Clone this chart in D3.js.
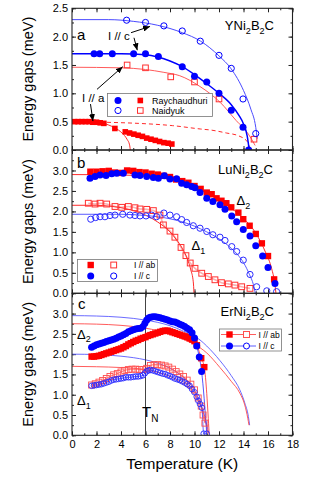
<!DOCTYPE html>
<html>
<head>
<meta charset="utf-8">
<script src="https://cdn.jsdelivr.net/npm/d3@7"></script>
<style>
  body { margin: 0; background: #fff; }
  svg text { font-family: "Liberation Sans", Arial, sans-serif; fill: #000; }
</style>
</head>
<body>
<svg id="chart" width="332" height="478"></svg>
<script>
// ---------- data (T in K, gap in meV) ----------
var xTicks = [0, 2, 4, 6, 8, 10, 12, 14, 16, 18];

// panel a : YNi2B2C
var aRayC = [[1.8,1.7],[2.26,1.7],[3.29,1.7],[5.03,1.7],[6.0,1.7],[7.05,1.65],[9.0,1.47],[10.0,1.3],[11.0,1.2],[12.0,1.0],[13.0,0.7],[13.96,0.4],[14.42,0.0]];
var aNaiC = [[4.46,2.29],[6.0,2.25],[7.5,2.19],[9.0,2.1],[10.47,1.92],[12.0,1.67],[13.0,1.44],[13.96,0.9],[15.0,0.29]];
var aNaiA = [[4.5,1.5],[6.0,1.45],[8.06,1.29],[10.0,1.2],[12.0,0.9],[14.86,0.19]];
var aRayA = [[0.2,0.5],[0.5,0.5],[0.8,0.5],[1.1,0.5],[1.4,0.5],[1.7,0.49],[2.0,0.49],[2.3,0.48],[2.6,0.47],[3.5,0.38],[4.35,0.32],[4.7,0.3],[5.05,0.28],[5.4,0.26],[5.75,0.24],[6.1,0.21],[6.45,0.19],[6.8,0.17],[7.15,0.15],[7.5,0.13],[7.85,0.12],[8.15,0.105]];
var aFitNaiC = [[0,2.3],[3,2.3],[5,2.27],[7,2.2],[9,2.07],[10.5,1.92],[12,1.66],[13,1.43],[14,1.05],[14.6,0.72],[15.0,0.4],[15.12,0.2]];
var aFitRayC = [[0,1.7],[4,1.7],[6,1.68],[7,1.64],[8,1.57],[9,1.47],[10,1.33],[11,1.17],[12,1.0],[13,0.8],[13.6,0.62],[14,0.46],[14.3,0.25],[14.47,0]];
var aFitNaiA = [[0,1.46],[4,1.45],[6,1.42],[7.5,1.37],[8.8,1.31],[10.45,1.12],[12.1,0.84],[13.4,0.52],[14.4,0.28],[14.95,0.08]];
var aFitRayA1 = [[0,0.5],[2.6,0.49],[5.4,0.47],[8.2,0.43],[10.5,0.37],[11.4,0.35],[12.6,0.3],[13.6,0.25],[14.3,0.15],[14.55,0]];
var aFitRayA2 = [[0,0.5],[2,0.49],[3,0.44],[3.5,0.39],[4.08,0.3],[4.49,0.19],[4.7,0.09],[4.76,0]];

// panel b : LuNi2B2C
var bAbFilled = [[1.5,2.97],[2.0,2.97],[2.5,2.98],[3.0,2.99],[3.5,2.95],[4.0,2.94],[4.5,3.0],[5.0,2.99],[5.5,2.96],[6.0,2.95],[6.5,2.92],[7.0,2.9],[7.5,2.87],[8.0,2.84],[8.5,2.78],[9.0,2.74],[9.5,2.7],[10.0,2.62],[10.5,2.55],[11.0,2.46],[11.4,2.42],[11.8,2.32],[12.2,2.26],[12.6,2.2],[13.0,2.1],[13.58,1.97],[13.98,1.81],[14.5,1.65],[15.0,1.45],[15.5,1.22],[16.0,0.91],[16.5,0.34]];
var bCFilled = [[1.47,2.81],[1.88,2.85],[2.29,2.89],[2.78,2.88],[3.24,2.92],[3.65,2.93],[4.19,2.93],[5.14,2.89],[5.55,2.88],[6.1,2.85],[6.64,2.83],[7.05,2.81],[7.54,2.87],[8.0,2.79],[8.54,2.8],[8.95,2.69],[9.36,2.65],[9.77,2.61],[10.04,2.58],[10.45,2.46],[11.0,2.32],[11.5,2.24],[12.08,2.16],[12.49,2.05],[13.04,1.89],[13.44,1.75],[13.98,1.56],[14.53,1.4],[15.0,1.16],[15.56,0.91],[16.0,0.63],[16.57,0.24]];
var bAbOpen = [[1.33,2.2],[1.88,2.18],[2.29,2.2],[2.83,2.18],[3.51,2.12],[4.06,2.1],[4.6,2.12],[5.14,2.09],[5.55,2.06],[6.1,2.05],[6.64,2.02],[7.18,1.91],[7.46,1.67],[8.0,1.52],[8.4,1.37],[8.9,1.12],[9.3,0.92],[9.65,0.74],[10.04,0.61],[10.59,0.49],[11.13,0.41],[11.67,0.33],[12.2,0.26],[12.76,0.23],[13.3,0.2],[13.85,0.16],[14.53,0.12]];
var bCOpen = [[1.53,1.81],[1.93,1.85],[2.29,1.87],[2.69,1.87],[3.1,1.9],[3.51,1.91],[4.14,1.93],[4.73,1.91],[5.14,1.9],[5.55,1.89],[6.04,1.89],[6.5,1.91],[6.9,1.87],[7.5,1.96],[8.0,1.91],[8.54,1.87],[8.95,1.8],[9.36,1.73],[9.9,1.65],[10.45,1.59],[11.0,1.51],[11.5,1.43],[12.08,1.37],[12.49,1.29],[13.04,1.14],[13.44,1.02],[13.98,0.81],[14.53,0.46],[15.07,0.16],[15.9,0.06],[16.7,0.04]];
var bFitAb2 = [[0,2.9],[4,2.89],[6,2.86],[8,2.78],[10,2.6],[12,2.3],[13,2.08],[14,1.83],[15,1.47],[15.8,1.0],[16.3,0.6],[16.55,0.25],[16.65,0]];
var bFitAb1 = [[0,2.15],[2,2.15],[3,2.13],[4,2.09],[5,2.02],[6,1.91],[7,1.74],[8,1.5],[8.5,1.32],[9,1.1],[9.4,0.85],[9.7,0.57],[9.9,0.28],[9.96,0]];
var bFitC1 = [[0,1.93],[4,1.93],[6,1.9],[8,1.82],[10,1.64],[11,1.5],[12,1.33],[13,1.1],[13.5,0.95],[14,0.75],[14.5,0.45],[14.8,0.22],[14.97,0]];

// panel c : ErNi2B2C
var cCFilled = [[1.6,2.17],[1.8,2.2],[2.0,2.23],[2.2,2.25],[2.4,2.27],[2.6,2.29],[2.8,2.31],[3.0,2.33],[3.2,2.35],[3.4,2.37],[3.6,2.39],[3.8,2.42],[4.0,2.45],[4.2,2.48],[4.4,2.51],[4.6,2.55],[4.8,2.58],[5.0,2.6],[5.2,2.62],[5.4,2.63],[5.6,2.64],[5.8,2.68],[5.95,2.76],[6.1,2.84],[6.25,2.89],[6.4,2.91],[6.6,2.92],[6.8,2.92],[7.0,2.91],[7.2,2.9],[7.4,2.88],[7.6,2.86],[7.8,2.84],[8.0,2.82],[8.2,2.8],[8.4,2.79],[8.6,2.77],[8.8,2.74],[9.0,2.71],[9.2,2.68],[9.4,2.64],[9.6,2.6],[9.8,2.53],[10.0,2.4],[10.18,2.2],[10.39,1.93],[10.58,1.57]];
var cAbFilled = [[1.6,1.94],[1.8,1.94],[2.0,1.95],[2.2,1.96],[2.4,1.98],[2.6,2.0],[2.8,2.02],[3.0,2.04],[3.2,2.06],[3.4,2.08],[3.6,2.1],[3.8,2.12],[4.0,2.14],[4.2,2.17],[4.4,2.2],[4.6,2.24],[4.8,2.27],[5.0,2.3],[5.2,2.33],[5.4,2.35],[5.6,2.38],[5.8,2.4],[6.0,2.42],[6.2,2.45],[6.4,2.47],[6.6,2.49],[6.8,2.51],[7.0,2.53],[7.2,2.55],[7.4,2.57],[7.6,2.58],[7.8,2.58],[8.0,2.56],[8.2,2.54],[8.4,2.52],[8.6,2.5],[8.8,2.48],[9.0,2.46],[9.2,2.44],[9.4,2.42],[9.6,2.39],[9.8,2.36],[10.0,2.32],[10.2,2.22],[10.55,1.9],[10.8,1.68]];
var cAbOpen = [[1.6,1.24],[1.9,1.27],[2.2,1.31],[2.5,1.35],[2.8,1.4],[3.1,1.45],[3.4,1.49],[3.7,1.52],[4.0,1.56],[4.3,1.6],[4.6,1.62],[4.9,1.63],[5.2,1.63],[5.5,1.62],[5.8,1.62],[6.1,1.65],[6.4,1.72],[6.7,1.74],[7.0,1.74],[7.3,1.73],[7.6,1.71],[7.9,1.68],[8.2,1.63],[8.5,1.57],[8.8,1.51],[9.1,1.45],[9.4,1.36],[9.7,1.26],[10.0,1.12],[10.3,0.92],[10.55,0.72],[10.7,0.5],[10.85,0.3]];
var cCOpen = [[1.6,1.22],[1.8,1.23],[2.0,1.24],[2.2,1.25],[2.4,1.26],[2.6,1.28],[2.8,1.3],[3.0,1.32],[3.2,1.35],[3.4,1.37],[3.6,1.38],[3.8,1.39],[4.0,1.4],[4.2,1.41],[4.4,1.43],[4.6,1.43],[4.8,1.43],[5.0,1.44],[5.2,1.45],[5.4,1.45],[5.6,1.46],[5.8,1.48],[5.95,1.53],[6.1,1.58],[6.25,1.6],[6.4,1.61],[6.6,1.6],[6.8,1.58],[7.0,1.56],[7.2,1.54],[7.4,1.52],[7.6,1.51],[7.8,1.48],[8.0,1.46],[8.2,1.43],[8.4,1.4],[8.6,1.38],[8.8,1.36],[9.0,1.33],[9.2,1.3],[9.4,1.26],[9.6,1.22],[9.8,1.14],[10.0,1.06],[10.18,0.95],[10.32,0.85],[10.45,0.77],[10.6,0.68],[10.75,0.04],[11.0,0.04]];
var cFitC2 = [[0,2.95],[2,2.94],[4,2.91],[6,2.84],[8,2.7],[9,2.58],[10.45,2.35],[11,2.2],[12.08,1.84],[13,1.47],[13.7,1.12],[14.1,0.8],[14.4,0.46],[14.5,0.25]];
var cFitAb2 = [[0,2.75],[2,2.74],[4,2.71],[6,2.64],[8,2.5],[9,2.38],[10.45,2.16],[11,2.03],[12.08,1.67],[13,1.33],[13.7,1.04],[14.1,0.75],[14.35,0.42],[14.45,0.25]];
var cFitC1 = [[0,2.0],[2,1.99],[4,1.95],[6,1.86],[7,1.78],[8,1.65],[9,1.45],[9.6,1.28],[10,1.1],[10.5,0.78],[10.9,0.4],[11.15,0.05]];
var cFitAb1 = [[0,1.7],[2,1.69],[4,1.67],[6,1.62],[7,1.55],[8,1.45],[9,1.28],[10,1.0],[10.5,0.72],[10.9,0.35],[11.1,0.05]];
var cTailC = [[10.58,1.57],[11.0,0.04]];
var cTailAb = [[10.8,1.68],[11.2,0.02]];
var tN = 6;

// ---------- layout ----------
var RED = "#ff0000", BLUE = "#0000ff";
var svg = d3.select("#chart");
var x = d3.scaleLinear().domain([0, 18]).range([72, 292.5]);
var fmt = d3.format(".1f");

var panels = [
  {top: 8.3,   bottom: 150,   max: 2.5, labels: [0, 0.5, 1, 1.5, 2, 2.5]},
  {top: 150,   bottom: 293.3, max: 3.5, labels: [0, 0.5, 1, 1.5, 2, 2.5, 3]},
  {top: 293.3, bottom: 435.3, max: 3.5, labels: [0, 0.5, 1, 1.5, 2, 2.5, 3]}
];

svg.append("defs").append("marker")
    .attr("id", "arrow")
    .attr("markerUnits", "userSpaceOnUse")
    .attr("markerWidth", 7).attr("markerHeight", 6)
    .attr("refX", 7).attr("refY", 3)
    .attr("orient", "auto")
  .append("path").attr("d", "M0,0 L7,3 L0,6 Z").attr("fill", "#000");

function lineFor(y) {
  return d3.line().x(function(d){ return x(d[0]); }).y(function(d){ return y(d[1]); })
    .curve(d3.curveMonotoneX);
}
function drawLine(g, data, y, color, w, dash) {
  g.append("path").datum(data)
    .attr("d", lineFor(y))
    .attr("fill", "none")
    .attr("stroke", color)
    .attr("stroke-width", w)
    .attr("stroke-dasharray", dash || null);
}
function circles(g, data, y, r, filled, color, sw) {
  g.selectAll(null).data(data).enter().append("circle")
    .attr("cx", function(d){ return x(d[0]); })
    .attr("cy", function(d){ return y(d[1]); })
    .attr("r", r)
    .attr("fill", filled ? color : "none")
    .attr("stroke", color)
    .attr("stroke-width", filled ? 0 : (sw || 1));
}
function squares(g, data, y, s, filled, color, sw) {
  g.selectAll(null).data(data).enter().append("rect")
    .attr("x", function(d){ return x(d[0]) - s / 2; })
    .attr("y", function(d){ return y(d[1]) - s / 2; })
    .attr("width", s).attr("height", s)
    .attr("fill", filled ? color : "none")
    .attr("stroke", color)
    .attr("stroke-width", filled ? 0 : (sw || 1));
}
// chemical formula with subscripts
function chem(g, px, py, parts, size) {
  var t = g.append("text").attr("x", px).attr("y", py).attr("text-anchor", "end")
    .attr("font-size", size);
  parts.forEach(function(p) {
    if (p.sub) {
      t.append("tspan").text(p.sub).attr("font-size", size * 0.7).attr("dy", 3.5);
    } else {
      t.append("tspan").text(p.t).attr("dy", p.after ? -3.5 : 0);
    }
  });
}
function formula(el) {
  return [{t: el}, {t: "Ni"}, {sub: "2"}, {t: "B", after: true}, {sub: "2"}, {t: "C", after: true}];
}
function delta(g, px, py, sub) {
  var t = g.append("text").attr("x", px).attr("y", py).attr("font-size", 13);
  t.append("tspan").text("\u0394");
  t.append("tspan").text(sub).attr("font-size", 9).attr("dy", 3.5);
}

var ys = panels.map(function(p, i) {
  var y = d3.scaleLinear().domain([0, p.max]).range([p.bottom, p.top]);
  var g = svg.append("g");

  var clip = "clip" + i;
  svg.append("clipPath").attr("id", clip).append("rect")
    .attr("x", x(0)).attr("y", p.top).attr("width", x(18) - x(0)).attr("height", p.bottom - p.top);
  p.g = svg.append("g").attr("clip-path", "url(#" + clip + ")");

  function strip(a) { a.select(".domain").remove(); a.selectAll("line").attr("stroke", "#222"); }
  var minorY = d3.range(0, p.max + 0.001, 0.25);
  var minorX = d3.range(0, 18.001, 1);

  g.append("g").attr("transform", "translate(" + x(0) + ",0)")
    .call(d3.axisLeft(y).tickValues(p.labels).tickSize(-4).tickPadding(4).tickFormat(fmt))
    .call(strip)
    .selectAll("text").attr("font-size", 11).attr("font-family", "Liberation Sans, Arial, sans-serif");
  g.append("g").attr("transform", "translate(" + x(0) + ",0)")
    .call(d3.axisLeft(y).tickValues(minorY).tickSize(-2).tickFormat("")).call(strip);
  g.append("g").attr("transform", "translate(" + x(18) + ",0)")
    .call(d3.axisRight(y).tickValues(p.labels).tickSize(-4).tickFormat("")).call(strip);
  g.append("g").attr("transform", "translate(" + x(18) + ",0)")
    .call(d3.axisRight(y).tickValues(minorY).tickSize(-2).tickFormat("")).call(strip);

  var bottomAxis = d3.axisBottom(x).tickValues(xTicks).tickSize(-4).tickPadding(5)
    .tickFormat(i === 2 ? d3.format("d") : "");
  g.append("g").attr("transform", "translate(0," + p.bottom + ")")
    .call(bottomAxis).call(strip)
    .selectAll("text").attr("font-size", 11).attr("font-family", "Liberation Sans, Arial, sans-serif");
  g.append("g").attr("transform", "translate(0," + p.bottom + ")")
    .call(d3.axisBottom(x).tickValues(minorX).tickSize(-2).tickFormat("")).call(strip);
  g.append("g").attr("transform", "translate(0," + p.top + ")")
    .call(d3.axisTop(x).tickValues(xTicks).tickSize(-4).tickFormat("")).call(strip);
  g.append("g").attr("transform", "translate(0," + p.top + ")")
    .call(d3.axisTop(x).tickValues(minorX).tickSize(-2).tickFormat("")).call(strip);

  svg.append("rect")
    .attr("x", x(0)).attr("y", p.top).attr("width", x(18) - x(0)).attr("height", p.bottom - p.top)
    .attr("fill", "none").attr("stroke", "#222").attr("stroke-width", 1.1);

  svg.append("text")
    .attr("transform", "translate(33," + ((p.top + p.bottom) / 2) + ")rotate(-90)")
    .attr("text-anchor", "middle")
    .attr("font-size", 14.5)
    .text("Energy gaps (meV)");
  return y;
});

// ---------- panel a ----------
(function() {
  var g = panels[0].g, y = ys[0];
  drawLine(g, aFitNaiC, y, "#4a4aff", 1);
  drawLine(g, aFitNaiA, y, "#ff5a5a", 1);
  drawLine(g, aFitRayA1, y, "#ff2a2a", 1, "4,3");
  drawLine(g, aFitRayA2, y, "#ff2a2a", 1);
  drawLine(g, aFitRayC, y, BLUE, 1.5);
  squares(g, aRayA, y, 5.6, true, RED);
  squares(g, aNaiA, y, 5.6, false, "#ff3030");
  circles(g, aNaiC, y, 3.1, false, BLUE);
  circles(g, aRayC, y, 3.5, true, BLUE);

  svg.append("text").attr("x", 77).attr("y", 40).attr("font-size", 15).text("a");
  chem(svg, 274, 30, formula("Y"), 13);
  svg.append("text").attr("x", 108).attr("y", 39.5).attr("font-size", 11.5).text("I // c");
  svg.append("text").attr("x", 82).attr("y", 101.5).attr("font-size", 11.5).text("I // a");

  var arrows = [
    [[4.82, 2.07], [6.37, 2.18]],
    [[5.06, 1.98], [5.33, 1.76]],
    [[1.51, 0.81], [1.71, 0.51]],
    [[2.04, 1.07], [4.14, 1.47]]
  ];
  svg.selectAll(null).data(arrows).enter().append("line")
    .attr("x1", function(d){ return x(d[0][0]); }).attr("y1", function(d){ return y(d[0][1]); })
    .attr("x2", function(d){ return x(d[1][0]); }).attr("y2", function(d){ return y(d[1][1]); })
    .attr("stroke", "#000").attr("stroke-width", 1).attr("marker-end", "url(#arrow)");

  var lg = svg.append("g");
  lg.append("rect").attr("x", 107.5).attr("y", 93.5).attr("width", 105).attr("height", 23)
    .attr("fill", "#fff").attr("stroke", "#777").attr("stroke-width", 0.8);
  lg.append("circle").attr("cx", 118).attr("cy", 100.5).attr("r", 3.5).attr("fill", BLUE);
  lg.append("rect").attr("x", 137.5).attr("y", 97.7).attr("width", 5.6).attr("height", 5.6).attr("fill", RED);
  lg.append("circle").attr("cx", 118).attr("cy", 110.5).attr("r", 3.1).attr("fill", "none").attr("stroke", BLUE);
  lg.append("rect").attr("x", 137.5).attr("y", 107.7).attr("width", 5.6).attr("height", 5.6).attr("fill", "none").attr("stroke", "#ff3030");
  lg.append("text").attr("x", 152).attr("y", 103.5).attr("font-size", 9).text("Raychaudhuri");
  lg.append("text").attr("x", 152).attr("y", 113.7).attr("font-size", 9).text("Naidyuk");
})();

// ---------- panel b ----------
(function() {
  var g = panels[1].g, y = ys[1];
  drawLine(g, bAbOpen, y, "#f9b0b0", 1.6);
  drawLine(g, bFitAb2, y, "#ff2a2a", 1);
  drawLine(g, bFitAb1, y, "#ff2a2a", 1);
  drawLine(g, bFitC1, y, "#5a5aff", 1);
  squares(g, bAbOpen, y, 5.8, false, "#ff3030");
  circles(g, bCOpen, y, 3.1, false, "#2a2aff");
  squares(g, bAbFilled, y, 6.4, true, RED);
  circles(g, bCFilled, y, 3.5, true, BLUE);

  svg.append("text").attr("x", 77).attr("y", 168).attr("font-size", 15).text("b");
  chem(svg, 273, 174, formula("Lu"), 13);
  delta(svg, 236.5, 205, "2");
  delta(svg, 191.5, 250, "1");

  var lg = svg.append("g");
  lg.append("rect").attr("x", 77.5).attr("y", 259.5).attr("width", 80).attr("height", 22)
    .attr("fill", "#fff").attr("stroke", "#777").attr("stroke-width", 0.8);
  lg.append("rect").attr("x", 87.5).attr("y", 261.8).attr("width", 6.4).attr("height", 6.4).attr("fill", RED);
  lg.append("rect").attr("x", 110.8).attr("y", 262.1).attr("width", 5.8).attr("height", 5.8).attr("fill", "none").attr("stroke", "#ff3030");
  lg.append("circle").attr("cx", 90.7).attr("cy", 276).attr("r", 3.5).attr("fill", BLUE);
  lg.append("circle").attr("cx", 113.7).attr("cy", 276).attr("r", 3.1).attr("fill", "none").attr("stroke", BLUE);
  lg.append("text").attr("x", 134).attr("y", 268).attr("font-size", 8.5).text("I // ab");
  lg.append("text").attr("x", 134).attr("y", 279).attr("font-size", 8.5).text("I // c");
})();

// ---------- panel c ----------
(function() {
  var g = panels[2].g, y = ys[2];
  drawLine(g, cFitC2, y, "#5a5aff", 0.9);
  drawLine(g, cFitAb2, y, "#ff4a4a", 0.9);
  drawLine(g, cFitC1, y, "#5a5aff", 0.9);
  drawLine(g, cFitAb1, y, "#ff4a4a", 0.9);
  g.append("line")
    .attr("x1", x(tN)).attr("x2", x(tN)).attr("y1", y(3.5)).attr("y2", y(0))
    .attr("stroke", "#444").attr("stroke-width", 1);
  drawLine(g, cAbOpen, y, "#ff4a4a", 0.8);
  drawLine(g, cCOpen, y, "#3a3aff", 0.8);
  drawLine(g, cAbFilled.concat(cTailAb.slice(1)), y, "#ff2a2a", 0.8);
  drawLine(g, cCFilled.concat(cTailC.slice(1)), y, "#2a2aff", 0.8);
  squares(g, cAbOpen, y, 6, false, "#ff5050", 0.9);
  circles(g, cCOpen, y, 2.8, false, "#2a2aff", 0.9);
  squares(g, cAbFilled, y, 6.4, true, RED);
  circles(g, cCFilled, y, 3.5, true, BLUE);

  svg.append("text").attr("x", 78).attr("y", 309).attr("font-size", 15).text("c");
  chem(svg, 274, 316, formula("Er"), 13);
  delta(svg, 77, 338.5, "2");
  delta(svg, 77, 405, "1");
  var tn = svg.append("text").attr("x", 142).attr("y", 417).attr("font-size", 15);
  tn.append("tspan").text("T");
  tn.append("tspan").text("N").attr("font-size", 10).attr("dy", 5);

  var lg = svg.append("g");
  lg.append("rect").attr("x", 219.5).attr("y", 329).attr("width", 62).attr("height", 22)
    .attr("fill", "#fff").attr("stroke", "#777").attr("stroke-width", 0.8);
  lg.append("line").attr("x1", 221).attr("x2", 256).attr("y1", 334.5).attr("y2", 334.5).attr("stroke", "#ff4a4a").attr("stroke-width", 0.9);
  lg.append("line").attr("x1", 221).attr("x2", 256).attr("y1", 346).attr("y2", 346).attr("stroke", "#4a4aff").attr("stroke-width", 0.9);
  lg.append("rect").attr("x", 226.3).attr("y", 331.3).attr("width", 6.4).attr("height", 6.4).attr("fill", RED);
  lg.append("rect").attr("x", 243.5).attr("y", 331.5).attr("width", 6).attr("height", 6).attr("fill", "#fff").attr("stroke", "#ff5050");
  lg.append("circle").attr("cx", 229.5).attr("cy", 346).attr("r", 3.5).attr("fill", BLUE);
  lg.append("circle").attr("cx", 246.5).attr("cy", 346).attr("r", 3).attr("fill", "#fff").attr("stroke", BLUE);
  lg.append("text").attr("x", 258.5).attr("y", 337.5).attr("font-size", 8.5).text("I // ab");
  lg.append("text").attr("x", 258.5).attr("y", 349).attr("font-size", 8.5).text("I // c");
})();

svg.append("text")
  .attr("x", (x(0) + x(18)) / 2).attr("y", 469)
  .attr("text-anchor", "middle")
  .attr("font-size", 15.5)
  .text("Temperature (K)");
</script>
</body>
</html>
